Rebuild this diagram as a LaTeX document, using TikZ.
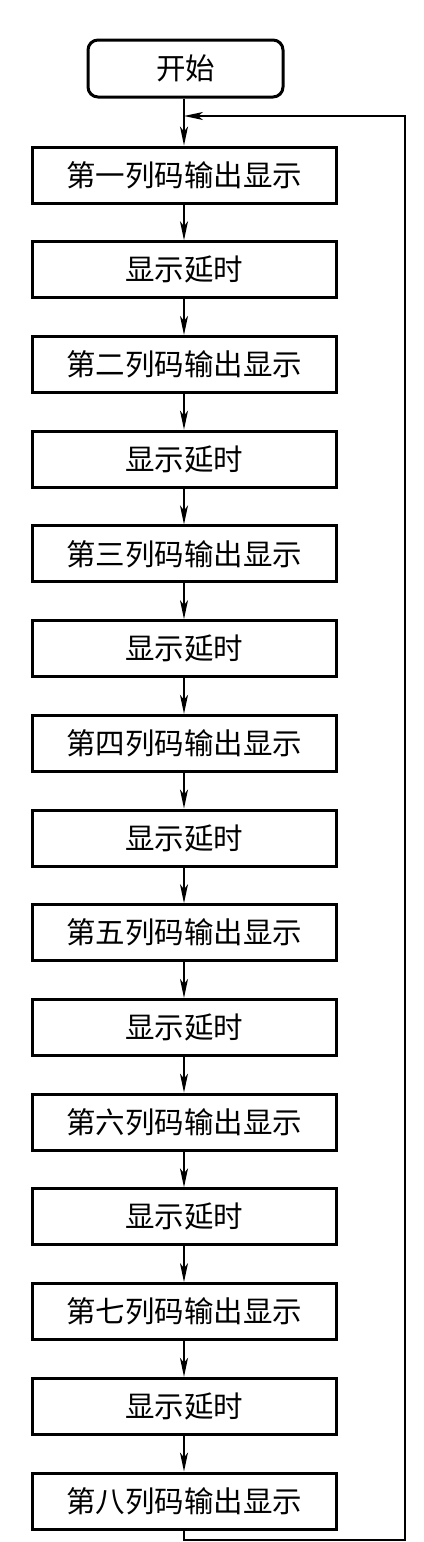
\documentclass[tikz,border=0pt]{standalone}
\usepackage{fontspec}
\setmainfont{Noto Sans CJK SC}
\usepackage{tikz}
\usetikzlibrary{arrows.meta}

\begin{document}
\begin{tikzpicture}[x=1pt, y=1pt, >={Stealth[length=19pt, width=8pt, inset=5pt]},
  every node/.style={font=\fontsize{29.5}{32}\selectfont},
  startbox/.style={draw, line width=3pt, rounded corners=10pt, minimum width=195pt, minimum height=57pt, inner sep=0pt},
  box/.style={draw, line width=3pt, minimum width=304pt, minimum height=56pt, inner sep=0pt},
  link/.style={->, line width=1.4pt}]
  \useasboundingbox (0,0) rectangle (423,-1542);
  \node[startbox] (start) at (185.5,-68.5) {开始};
  \node[box] (col1) at (184,-175) {第一列码输出显示};
  \node[box] (wait1) at (184,-269.7) {显示延时};
  \node[box] (col2) at (184,-364.4) {第二列码输出显示};
  \node[box] (wait2) at (184,-459.1) {显示延时};
  \node[box] (col3) at (184,-553.9) {第三列码输出显示};
  \node[box] (wait3) at (184,-648.6) {显示延时};
  \node[box] (col4) at (184,-743.3) {第四列码输出显示};
  \node[box] (wait4) at (184,-838.0) {显示延时};
  \node[box] (col5) at (184,-932.7) {第五列码输出显示};
  \node[box] (wait5) at (184,-1027.4) {显示延时};
  \node[box] (col6) at (184,-1122.1) {第六列码输出显示};
  \node[box] (wait6) at (184,-1216.8) {显示延时};
  \node[box] (col7) at (184,-1311.6) {第七列码输出显示};
  \node[box] (wait7) at (184,-1406.3) {显示延时};
  \node[box] (col8) at (184,-1501.0) {第八列码输出显示};
  \coordinate (join) at (184,-116);
  \coordinate (loopbottom) at (184,-1540);
  \coordinate (loopright) at (405,-1540);
  \draw[link] (start.south -| col1) -- (col1.north);
  \draw[link] (col1) -- (wait1);
  \draw[link] (wait1) -- (col2);
  \draw[link] (col2) -- (wait2);
  \draw[link] (wait2) -- (col3);
  \draw[link] (col3) -- (wait3);
  \draw[link] (wait3) -- (col4);
  \draw[link] (col4) -- (wait4);
  \draw[link] (wait4) -- (col5);
  \draw[link] (col5) -- (wait5);
  \draw[link] (wait5) -- (col6);
  \draw[link] (col6) -- (wait6);
  \draw[link] (wait6) -- (col7);
  \draw[link] (col7) -- (wait7);
  \draw[link] (wait7) -- (col8);
  \draw[link] (col8.south) -- (loopbottom) -- (loopright) |- (join);
\end{tikzpicture}
\end{document}
